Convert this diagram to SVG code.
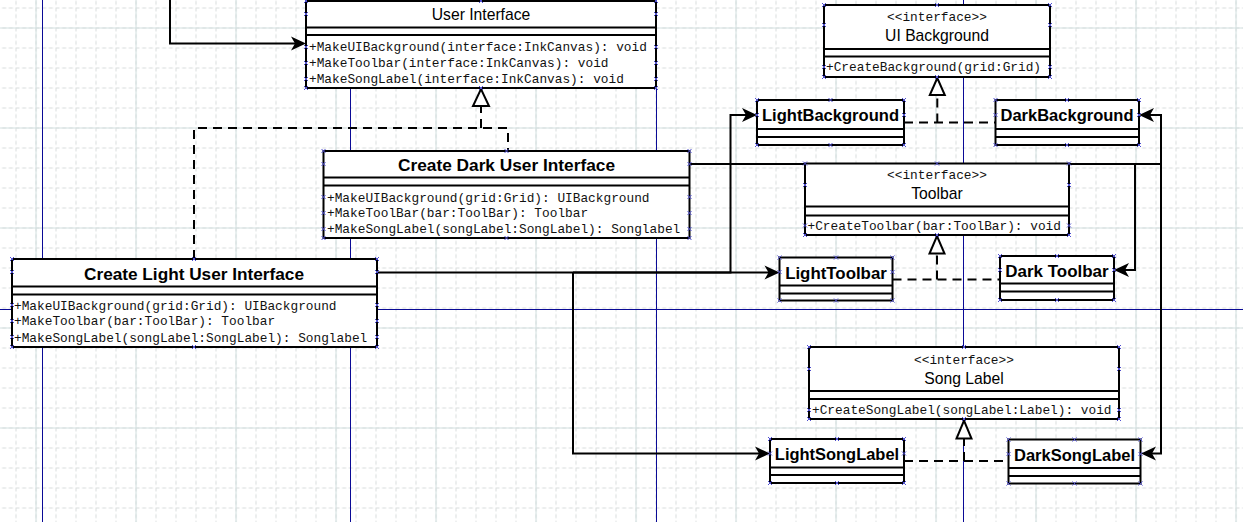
<svg xmlns="http://www.w3.org/2000/svg" xmlns:xlink="http://www.w3.org/1999/xlink" width="1243" height="522" viewBox="0 0 1243 522">
<style>
.box{fill:#fff;stroke:#000;stroke-width:2}
.sep{stroke:#000;stroke-width:2;fill:none}
.t{font-family:"Liberation Sans",Arial,sans-serif;font-size:15.7px;text-anchor:middle;fill:#000}
.b{font-family:"Liberation Sans",Arial,sans-serif;font-size:17px;font-weight:bold;text-anchor:middle;fill:#000}
.m{font-family:"Liberation Mono","Courier New",monospace;font-size:12.8px;fill:#111}
.st{font-family:"Liberation Mono","Courier New",monospace;font-size:12.8px;fill:#111;text-anchor:middle}
.c{fill:none;stroke:#000;stroke-width:2}
.d{fill:none;stroke:#000;stroke-width:2;stroke-dasharray:9 6}
.tri{fill:#fff;stroke:#000;stroke-width:2}
.guide{stroke:#0a0a96;stroke-width:1}
.hd{stroke:#5050d0;stroke-width:1;fill:none}
</style>
<defs>
<pattern id="minor" patternUnits="userSpaceOnUse" x="15.5" y="7.5" width="20" height="20">
<path d="M0,0.5H20M0.5,0V20" stroke="#d9dddd" stroke-width="1" stroke-dasharray="4 2.667" fill="none"/>
</pattern>
<pattern id="major" patternUnits="userSpaceOnUse" x="35.5" y="27.5" width="100" height="100">
<path d="M0,0.5H100M0.5,0V100" stroke="#d3e0e0" stroke-width="1.2" fill="none"/>
</pattern>
<marker id="arr" markerUnits="userSpaceOnUse" viewBox="-13 -8 17 16" refX="0" refY="0" markerWidth="17" markerHeight="16" orient="auto">
<path d="M3,0L-12,-7L-8,0L-12,7Z" fill="#000"/>
</marker>
<path id="h" class="hd" d="M-2,-2L2,2M-2,2L2,-2"/>
</defs>
<rect width="1243" height="522" fill="#fff"/>
<rect width="1243" height="522" fill="url(#minor)"/>
<rect width="1243" height="522" fill="url(#major)"/>
<g id="guides">
<line class="guide" x1="42.5" y1="0" x2="42.5" y2="522"/>
<line class="guide" x1="350.5" y1="0" x2="350.5" y2="522"/>
<line class="guide" x1="656.5" y1="0" x2="656.5" y2="522"/>
<line class="guide" x1="963.5" y1="0" x2="963.5" y2="522"/>
<line class="guide" x1="0" y1="309.5" x2="1243" y2="309.5"/>
</g>
<g id="connectors">
<path class="c" d="M170,0V43.5H303" marker-end="url(#arr)"/>
<path class="d" d="M194,259V128H508V151"/>
<path class="d" d="M481,128V106"/>
<polygon class="tri" points="473,106 489,106 481,89"/>
<path class="c" d="M689,164H1162"/>
<path class="c" d="M1161,164V115H1142" marker-end="url(#arr)"/>
<path class="c" d="M1161,164V453.5H1144" marker-end="url(#arr)"/>
<path class="c" d="M1135,164V270H1117" marker-end="url(#arr)"/>
<path class="c" d="M377,272.5H730.5V115H754" marker-end="url(#arr)"/>
<path class="c" d="M573,272.5V453.5H767" marker-end="url(#arr)"/>
<path class="c" d="M573,272.5H776.5" marker-end="url(#arr)"/>
<path class="d" d="M904,122.5H995.5"/>
<path class="d" d="M937.3,122.5V95"/>
<polygon class="tri" points="929.8,95 944.8,95 937.3,78"/>
<path class="d" d="M892.5,279.5H1000"/>
<path class="d" d="M937,279.5V253.5"/>
<polygon class="tri" points="929.5,253.5 944.5,253.5 937,236"/>
<path class="d" d="M904,461H1008.5"/>
<path class="d" d="M964,461V438.5"/>
<polygon class="tri" points="956.5,438.5 971.5,438.5 964,420.5"/>
</g>
<g id="user-interface">
<rect class="box" x="306" y="1" width="350" height="87"/>
<path class="sep" d="M306,27.5H656M306,35H656"/>
<text class="t" x="481" y="20">User Interface</text>
<text class="m" x="309" y="51">+MakeUIBackground(interface:InkCanvas): void</text>
<text class="m" x="309" y="67">+MakeToolbar(interface:InkCanvas): void</text>
<text class="m" x="309" y="83">+MakeSongLabel(interface:InkCanvas): void</text>
<use href="#h" x="306" y="1"/><use href="#h" x="481" y="1"/><use href="#h" x="656" y="1"/>
<use href="#h" x="306" y="88"/><use href="#h" x="481" y="88"/><use href="#h" x="656" y="88"/>
<use href="#h" x="306" y="14"/><use href="#h" x="306" y="47"/><use href="#h" x="306" y="63"/><use href="#h" x="306" y="79"/>
<use href="#h" x="656" y="14"/><use href="#h" x="656" y="47"/><use href="#h" x="656" y="63"/><use href="#h" x="656" y="79"/>
</g>
<g id="create-dark-ui">
<rect class="box" x="323.5" y="151" width="366" height="87"/>
<path class="sep" d="M323.5,177.5H689.5M323.5,185.5H689.5"/>
<text class="b" x="506.5" y="171" textLength="217" lengthAdjust="spacingAndGlyphs">Create Dark User Interface</text>
<text class="m" x="327" y="201.5">+MakeUIBackground(grid:Grid): UIBackground</text>
<text class="m" x="327" y="217">+MakeToolBar(bar:ToolBar): Toolbar</text>
<text class="m" x="327" y="233">+MakeSongLabel(songLabel:SongLabel): Songlabel</text>
<use href="#h" x="323.5" y="151"/><use href="#h" x="506.5" y="151"/><use href="#h" x="689.5" y="151"/>
<use href="#h" x="323.5" y="238"/><use href="#h" x="506.5" y="238"/><use href="#h" x="689.5" y="238"/>
<use href="#h" x="323.5" y="164"/><use href="#h" x="323.5" y="197"/><use href="#h" x="323.5" y="213"/><use href="#h" x="323.5" y="229"/>
<use href="#h" x="689.5" y="164"/><use href="#h" x="689.5" y="197"/><use href="#h" x="689.5" y="213"/><use href="#h" x="689.5" y="229"/>
</g>
<g id="create-light-ui">
<rect class="box" x="12" y="259" width="365" height="88"/>
<path class="sep" d="M12,286.5H377M12,294.5H377"/>
<text class="b" x="194" y="279.5" textLength="220" lengthAdjust="spacingAndGlyphs">Create Light User Interface</text>
<text class="m" x="14" y="309.5">+MakeUIBackground(grid:Grid): UIBackground</text>
<text class="m" x="14" y="325">+MakeToolbar(bar:ToolBar): Toolbar</text>
<text class="m" x="14" y="341.5">+MakeSongLabel(songLabel:SongLabel): Songlabel</text>
<use href="#h" x="12" y="259"/><use href="#h" x="194" y="259"/><use href="#h" x="377" y="259"/>
<use href="#h" x="12" y="347"/><use href="#h" x="194" y="347"/><use href="#h" x="377" y="347"/>
<use href="#h" x="12" y="272"/><use href="#h" x="12" y="305"/><use href="#h" x="12" y="321"/><use href="#h" x="12" y="337"/>
<use href="#h" x="377" y="272"/><use href="#h" x="377" y="305"/><use href="#h" x="377" y="321"/><use href="#h" x="377" y="337"/>
</g>
<g id="ui-background">
<rect class="box" x="824" y="5" width="226" height="72"/>
<path class="sep" d="M824,49H1050M824,56.5H1050"/>
<text class="st" x="937" y="20.5">&lt;&lt;interface&gt;&gt;</text>
<text class="t" x="937" y="40.5">UI Background</text>
<text class="m" x="826" y="71">+CreateBackground(grid:Grid)</text>
<use href="#h" x="824" y="5"/><use href="#h" x="937" y="5"/><use href="#h" x="1050" y="5"/>
<use href="#h" x="824" y="77"/><use href="#h" x="937" y="77"/><use href="#h" x="1050" y="77"/>
<use href="#h" x="824" y="25"/><use href="#h" x="824" y="67"/><use href="#h" x="1050" y="25"/><use href="#h" x="1050" y="67"/>
</g>
<g id="toolbar">
<rect class="box" x="805" y="163.5" width="264" height="71.5"/>
<path class="sep" d="M805,206.5H1069M805,215.5H1069"/>
<text class="st" x="937" y="179">&lt;&lt;interface&gt;&gt;</text>
<text class="t" x="937" y="199">Toolbar</text>
<text class="m" x="807.5" y="229.5">+CreateToolbar(bar:ToolBar): void</text>
<use href="#h" x="805" y="163.5"/><use href="#h" x="937" y="163.5"/><use href="#h" x="1069" y="163.5"/>
<use href="#h" x="805" y="235"/><use href="#h" x="937" y="235"/><use href="#h" x="1069" y="235"/>
<use href="#h" x="805" y="185"/><use href="#h" x="805" y="225.5"/><use href="#h" x="1069" y="185"/><use href="#h" x="1069" y="225.5"/>
</g>
<g id="song-label">
<rect class="box" x="809" y="347" width="310" height="72"/>
<path class="sep" d="M809,391H1119M809,399H1119"/>
<text class="st" x="964" y="364">&lt;&lt;interface&gt;&gt;</text>
<text class="t" x="964" y="383.5">Song Label</text>
<text class="m" x="812" y="414">+CreateSongLabel(songLabel:Label): void</text>
<use href="#h" x="809" y="347"/><use href="#h" x="964" y="347"/><use href="#h" x="1119" y="347"/>
<use href="#h" x="809" y="419"/><use href="#h" x="964" y="419"/><use href="#h" x="1119" y="419"/>
<use href="#h" x="809" y="369"/><use href="#h" x="809" y="410"/><use href="#h" x="1119" y="369"/><use href="#h" x="1119" y="410"/>
</g>
<g id="light-background">
<rect class="box" x="757" y="100" width="147" height="45"/>
<path class="sep" d="M757,129H904M757,137H904"/>
<text class="b" x="830.5" y="121" textLength="137" lengthAdjust="spacingAndGlyphs">LightBackground</text>
<use href="#h" x="757" y="100"/><use href="#h" x="830.5" y="100"/><use href="#h" x="904" y="100"/>
<use href="#h" x="757" y="145"/><use href="#h" x="830.5" y="145"/><use href="#h" x="904" y="145"/>
<use href="#h" x="757" y="115"/><use href="#h" x="904" y="115"/>
</g>
<g id="dark-background">
<rect class="box" x="995.5" y="100" width="143.5" height="45"/>
<path class="sep" d="M995.5,129H1139M995.5,137H1139"/>
<text class="b" x="1067" y="121" textLength="133" lengthAdjust="spacingAndGlyphs">DarkBackground</text>
<use href="#h" x="995.5" y="100"/><use href="#h" x="1067" y="100"/><use href="#h" x="1139" y="100"/>
<use href="#h" x="995.5" y="145"/><use href="#h" x="1067" y="145"/><use href="#h" x="1139" y="145"/>
<use href="#h" x="995.5" y="115"/><use href="#h" x="1139" y="115"/>
</g>
<g id="light-toolbar">
<rect class="box" x="779.5" y="257.5" width="113" height="43"/>
<path class="sep" d="M779.5,285.5H892.5M779.5,293.5H892.5"/>
<text class="b" x="836" y="278.5" textLength="101.7" lengthAdjust="spacingAndGlyphs">LightToolbar</text>
<use href="#h" x="779.5" y="257.5"/><use href="#h" x="836" y="257.5"/><use href="#h" x="892.5" y="257.5"/>
<use href="#h" x="779.5" y="300.5"/><use href="#h" x="836" y="300.5"/><use href="#h" x="892.5" y="300.5"/>
<use href="#h" x="779.5" y="272"/><use href="#h" x="892.5" y="272"/>
</g>
<g id="dark-toolbar">
<rect class="box" x="1000" y="256" width="114" height="44"/>
<path class="sep" d="M1000,283.5H1114M1000,291.5H1114"/>
<text class="b" x="1057" y="276.5" textLength="103.3" lengthAdjust="spacingAndGlyphs">Dark Toolbar</text>
<use href="#h" x="1000" y="256"/><use href="#h" x="1057" y="256"/><use href="#h" x="1114" y="256"/>
<use href="#h" x="1000" y="300"/><use href="#h" x="1057" y="300"/><use href="#h" x="1114" y="300"/>
<use href="#h" x="1000" y="270"/><use href="#h" x="1114" y="270"/>
</g>
<g id="light-song-label">
<rect class="box" x="770" y="439" width="134" height="44"/>
<path class="sep" d="M770,467.5H904M770,475H904"/>
<text class="b" x="837" y="459.5" textLength="124.3" lengthAdjust="spacingAndGlyphs">LightSongLabel</text>
<use href="#h" x="770" y="439"/><use href="#h" x="837" y="439"/><use href="#h" x="904" y="439"/>
<use href="#h" x="770" y="483"/><use href="#h" x="837" y="483"/><use href="#h" x="904" y="483"/>
<use href="#h" x="770" y="453.5"/><use href="#h" x="904" y="453.5"/>
</g>
<g id="dark-song-label">
<rect class="box" x="1008.5" y="439.5" width="132" height="44"/>
<path class="sep" d="M1008.5,468H1140.5M1008.5,476H1140.5"/>
<text class="b" x="1074.5" y="460.5" textLength="121" lengthAdjust="spacingAndGlyphs">DarkSongLabel</text>
<use href="#h" x="1008.5" y="439.5"/><use href="#h" x="1074.5" y="439.5"/><use href="#h" x="1140.5" y="439.5"/>
<use href="#h" x="1008.5" y="483.5"/><use href="#h" x="1074.5" y="483.5"/><use href="#h" x="1140.5" y="483.5"/>
<use href="#h" x="1008.5" y="454"/><use href="#h" x="1140.5" y="454"/>
</g>
</svg>
